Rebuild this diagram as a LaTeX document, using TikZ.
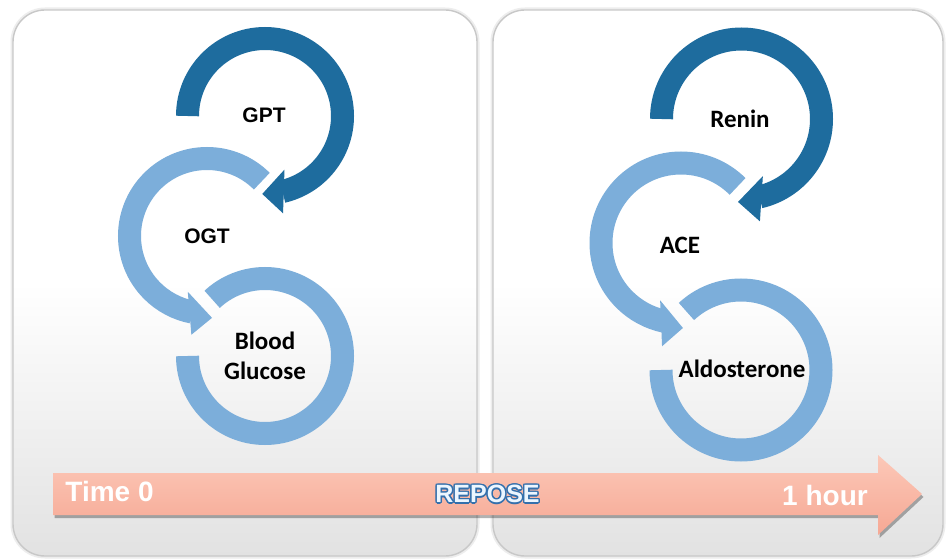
\documentclass[tikz,border=0pt]{standalone}
\usepackage{fontspec}
\setmainfont{Liberation Sans}
\newfontfamily\calfont{Carlito}
\usetikzlibrary{shadows}

\definecolor{ringDark}{RGB}{30,108,158}
\definecolor{ringLight}{RGB}{124,174,218}
\definecolor{barTop}{RGB}{252,200,184}
\definecolor{barBot}{RGB}{246,168,148}
\definecolor{repBlue}{RGB}{52,112,172}
\definecolor{repFill}{RGB}{236,246,255}
\definecolor{panelEdge}{RGB}{200,200,200}
\definecolor{panelBot}{RGB}{226,226,226}

\tikzset{
  panel/.style={rounded corners=32pt, draw=panelEdge, line width=1.4pt,
    top color=white, bottom color=panelBot, middle color=white},
  panelhalo/.style={rounded corners=32pt, draw=black!7, line width=5pt},
  ringd/.style={draw=ringDark, line width=23pt},
  ringl/.style={draw=ringLight, line width=23pt},
  headd/.style={fill=ringDark},
  headl/.style={fill=ringLight},
  arial/.style={font=\fontsize{21}{24}\selectfont\bfseries, text=black},
  calib/.style={font=\calfont\fontsize{25}{30}\selectfont\bfseries, text=black, align=center},
  timebar/.style={top color=barTop, bottom color=barBot,
    drop shadow={shadow xshift=1.5pt, shadow yshift=-3pt, opacity=0.3, fill=black}},
  barlabel/.style={font=\fontsize{28}{30}\selectfont\bfseries, text=white},
  replabel/.style={font=\fontsize{25}{28}\selectfont\bfseries}
}

\begin{document}
\begin{tikzpicture}[x=1pt, y=1pt]
  \useasboundingbox (0,0) rectangle (946,558);
  \fill[white] (0,0) rectangle (946,558);

  % two panels
  \draw[panelhalo] (13,2) rectangle (477,548);
  \draw[panelhalo] (493,2) rectangle (943,548);
  \path[panel] (13,2) rectangle (477,548);
  \path[panel] (493,2) rectangle (943,548);

  % ---- left cycle: GPT -> OGT -> Blood Glucose
  \coordinate (cGPT) at (265,442);
  \coordinate (cOGT) at (207,322);
  \coordinate (cBG)  at (265,202);

  \draw[ringl] ([shift={(180:77.5pt)}]cBG) arc[start angle=180, end angle=493, radius=77.5pt];
  \draw[ringl] ([shift={(45:77.5pt)}]cOGT) arc[start angle=45, end angle=259, radius=77.5pt];
  \fill[headl, shift={(cOGT)}] (251:59pt) -- (261:100pt) -- (273.5:82pt) -- cycle;
  \draw[ringd] ([shift={(180:77.5pt)}]cGPT) arc[start angle=180, end angle=-77, radius=77.5pt];
  \fill[headd, shift={(cGPT)}] (-70:57pt) -- (-79.5:99pt) -- (-92:78pt) -- cycle;

  \node[arial] (gpt) at (264,443) {GPT};
  \node[arial] (ogt) at (207,322) {OGT};
  \node[calib] (bg) at (265,202) {Blood\\Glucose};

  % ---- right cycle: Renin -> ACE -> Aldosterone
  \coordinate (cRen) at (741.5,439);
  \coordinate (cACE) at (681,315);
  \coordinate (cAld) at (741,188);

  \draw[ringl] ([shift={(180:80pt)}]cAld) arc[start angle=180, end angle=493, radius=80pt];
  \draw[ringl] ([shift={(45:80pt)}]cACE) arc[start angle=45, end angle=258, radius=80pt];
  \fill[headl, shift={(cACE)}] (250:61pt) -- (259.6:105pt) -- (271.3:85pt) -- cycle;
  \draw[ringd] ([shift={(180:80pt)}]cRen) arc[start angle=180, end angle=-77, radius=80pt];
  \fill[headd, shift={(cRen)}] (-69.5:61pt) -- (-79.8:104pt) -- (-92.4:83pt) -- cycle;

  \node[calib] (renin) at (740,439) {Renin};
  \node[calib] (ace) at (680,313) {ACE};
  \node[calib] (aldo) at (742,189) {Aldosterone};

  % ---- time arrow
  \coordinate (tTip) at (922,64);
  \path[timebar] (53,85) -- (878,85) -- (878,103) -- (tTip) -- (878,23) -- (878,43) -- (53,43) -- cycle;

  \node[barlabel] (t0) at (109.5,67) {Time 0};
  \node[barlabel] (t1) at (825,63) {1 hour};
  % outlined label: ring of blue copies under a pale copy
  \foreach \a in {0,30,...,330}
    \node[replabel, text=repBlue] (rep-\a) at ([shift={(\a:1.4pt)}]487.5,64) {REPOSE};
  \node[replabel, text=repFill] (rep) at (487.5,64) {REPOSE};
\end{tikzpicture}
\end{document}
